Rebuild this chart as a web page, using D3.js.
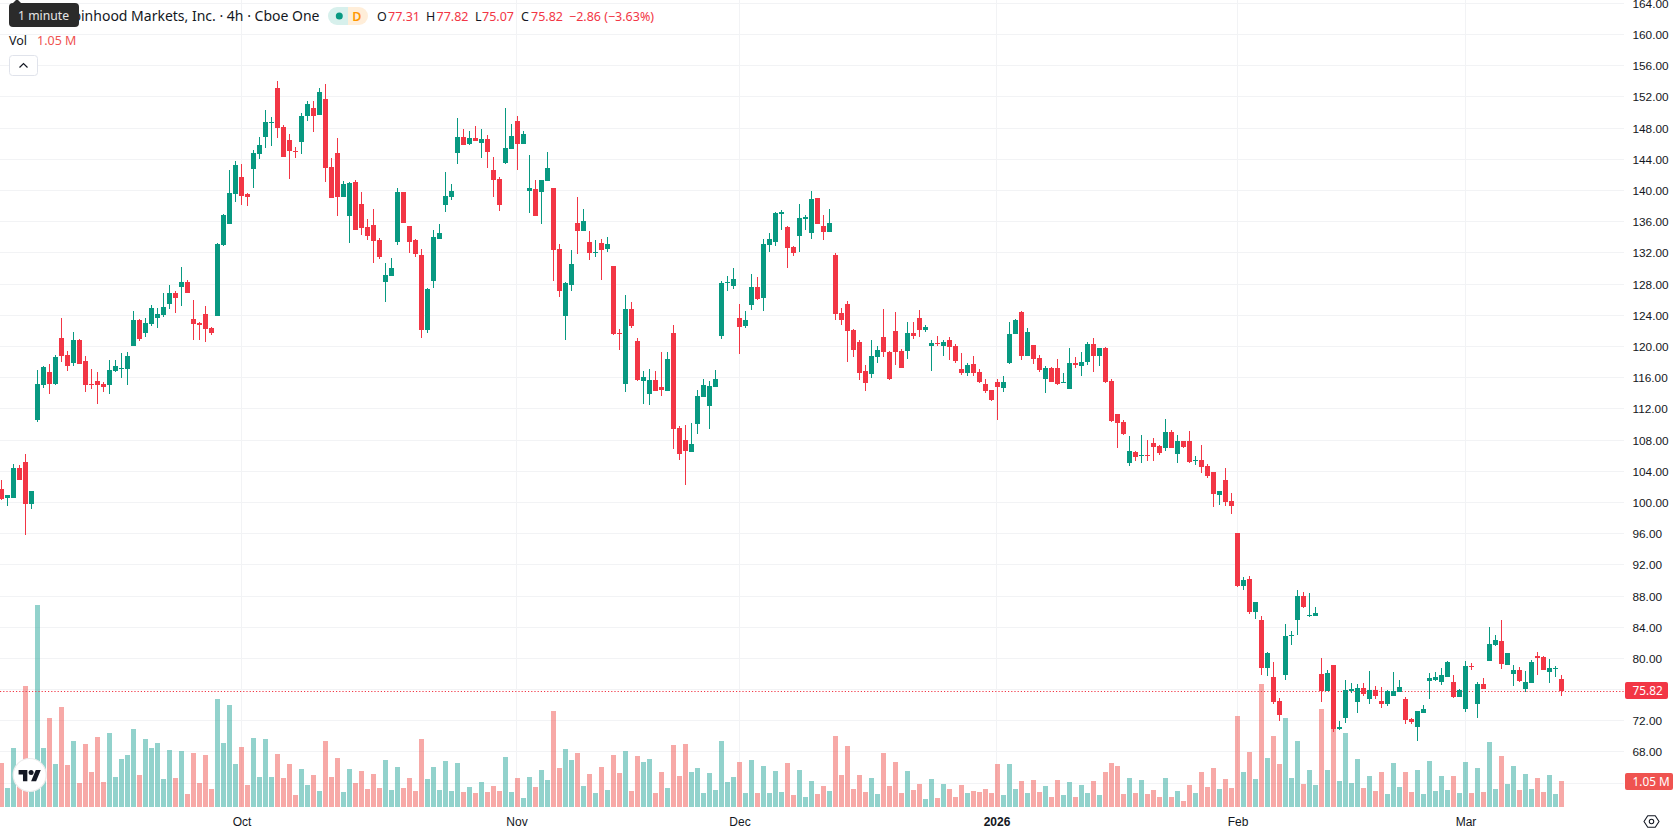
<!DOCTYPE html>
<html>
<head>
<meta charset="utf-8">
<title>Robinhood Markets, Inc. 4h</title>
<script src="https://cdn.jsdelivr.net/npm/d3@7/dist/d3.min.js"></script>
<style>
  html, body { margin: 0; padding: 0; background: #fff; overflow: hidden; }
  svg { display: block; font-family: "Noto Sans", "Open Sans", sans-serif; }
</style>
</head>
<body>
<svg id="chart" width="1678" height="835"></svg>
<script>
// Four-hour candles, oldest first
const opens = [
  101.65,100.50,100.50,104.34,105.11,99.73,110.50,114.99,116.65,115.11,
  121.01,118.83,117.81,120.75,118.06,115.11,115.50,115.11,114.99,116.78,
  117.04,117.04,119.99,123.32,121.65,122.81,123.58,123.96,125.37,126.78,
  127.55,128.19,123.45,122.93,124.09,122.29,123.83,132.93,135.63,139.47,
  141.65,139.47,142.68,144.60,146.78,148.58,153.06,148.06,146.40,144.99,
  146.14,149.47,150.50,149.60,151.65,142.93,144.73,139.09,136.65,141.01,
  138.19,135.24,135.50,133.58,128.19,128.96,133.32,139.73,135.37,133.58,
  131.66,122.04,128.32,133.71,138.07,139.09,144.73,146.78,145.89,146.66,
  146.02,146.53,142.55,141.40,143.45,145.25,148.84,145.89,139.86,140.12,
  139.73,141.14,140.25,132.43,123.84,127.81,135.76,134.73,133.32,131.91,
  133.19,132.43,130.25,121.66,115.12,124.73,120.63,115.50,113.84,115.63,
  114.73,114.22,121.66,109.48,107.94,106.40,109.99,113.45,112.30,114.73,
  121.27,128.06,127.68,123.58,122.55,125.25,127.55,126.14,132.94,133.32,
  136.91,135.25,132.68,134.09,136.27,134.48,138.96,135.37,134.60,131.66,
  124.22,125.37,122.04,120.50,116.78,116.40,118.58,121.14,119.22,121.91,
  119.35,119.35,121.66,123.58,122.04,119.99,120.37,119.99,120.76,119.99,
  117.04,116.53,117.68,116.66,115.12,114.35,115.37,114.60,117.81,121.53,
  124.35,118.71,120.12,118.45,115.76,117.17,117.17,115.24,114.48,117.81,
  117.42,117.94,120.24,118.71,119.73,115.50,111.27,110.24,104.99,106.40,
  105.89,106.01,107.55,107.17,106.91,108.96,106.14,107.81,107.81,105.24,
  105.37,104.60,103.83,100.89,102.81,100.12,96.01,89.21,90.11,85.88,
  84.86,78.70,77.55,74.47,77.80,82.80,84.86,87.93,85.37,85.37,
  77.93,75.75,79.09,70.88,72.29,75.75,74.34,76.14,74.73,75.88,
  74.47,74.09,75.11,75.62,74.73,72.16,71.14,72.93,77.03,77.16,
  76.91,77.55,76.91,74.98,73.45,78.96,74.09,76.65,79.60,81.65,
  82.16,79.09,77.93,78.45,76.01,76.78,80.24,80.11,78.19,78.57,
  77.31
];
const highs = [
  102.81,100.88,104.86,104.73,106.14,101.40,116.91,117.42,117.68,118.83,
  123.58,119.34,121.78,120.88,118.70,117.04,116.65,115.37,118.19,118.19,
  119.09,119.22,124.47,123.45,123.58,125.24,124.86,126.78,127.81,127.04,
  130.11,128.45,125.88,123.06,125.11,122.42,133.19,136.91,142.55,143.70,
  143.32,139.60,145.11,146.78,150.24,149.34,153.96,148.32,147.16,145.50,
  149.86,151.40,151.40,153.06,153.58,144.09,146.65,141.14,141.01,141.27,
  139.73,136.27,137.55,133.83,130.63,131.27,140.24,139.73,135.37,133.70,
  132.43,127.43,134.86,135.63,142.30,140.76,149.22,147.81,147.55,148.19,
  147.81,147.04,144.22,141.66,150.50,148.45,149.48,147.55,144.48,141.27,
  141.27,144.86,140.25,133.07,128.19,132.30,139.09,137.55,134.73,133.58,
  133.71,133.96,130.25,122.17,126.53,125.63,121.02,116.78,117.04,116.78,
  119.22,119.22,122.68,109.73,109.86,110.12,114.35,115.76,115.50,116.91,
  128.32,128.96,129.99,125.37,124.48,129.22,128.84,133.71,134.48,137.17,
  137.43,135.37,132.81,138.19,136.78,139.86,138.96,136.78,137.55,131.91,
  124.86,125.76,122.17,120.76,117.55,120.76,119.99,124.73,119.35,124.35,
  119.60,123.07,123.07,124.60,122.68,120.76,121.27,120.76,121.14,120.24,
  119.09,117.81,118.71,117.04,115.76,114.35,115.76,116.14,123.07,123.45,
  124.48,122.30,120.12,118.83,117.42,117.30,118.32,116.53,119.73,118.58,
  119.22,120.50,121.01,119.73,119.86,115.76,111.27,110.50,108.45,106.53,
  108.58,107.94,108.19,107.30,110.63,109.22,108.58,107.81,109.09,105.89,
  107.30,104.86,103.83,101.40,104.35,101.14,96.01,90.37,90.50,87.16,
  85.37,80.75,79.47,74.86,84.34,83.45,88.70,88.45,88.32,86.52,
  79.98,78.45,79.09,71.91,77.16,76.78,76.65,76.78,78.32,76.39,
  76.27,75.88,78.19,77.16,74.98,72.29,73.19,73.96,78.06,78.19,
  78.70,79.60,77.80,76.01,79.60,79.34,76.91,77.42,83.96,82.93,
  84.86,80.62,79.09,78.83,78.32,79.73,80.75,80.24,79.86,78.96,
  77.82
];
const lows = [
  100.24,99.47,100.50,102.81,95.75,99.09,110.24,114.60,113.83,114.99,
  117.93,116.78,117.42,117.68,114.09,114.47,112.55,114.09,113.83,116.65,
  115.88,114.99,119.99,120.63,121.14,122.55,122.29,123.70,124.73,124.22,
  125.11,126.78,120.75,120.75,120.50,121.40,123.83,132.81,135.63,138.45,
  138.06,137.93,140.24,143.96,145.37,145.63,146.65,144.22,141.40,144.09,
  144.60,148.83,147.42,149.60,141.01,138.96,136.65,139.09,133.19,134.86,
  134.22,133.58,130.63,131.14,125.63,128.96,132.93,135.75,131.91,131.40,
  121.02,121.66,127.43,133.71,137.17,138.71,143.32,145.76,145.76,146.27,
  144.09,142.81,139.09,137.30,143.32,145.25,142.55,145.89,137.04,136.66,
  135.63,141.14,128.32,126.27,120.76,127.04,131.78,134.73,131.02,131.40,
  128.45,132.04,121.40,119.48,114.09,122.30,115.50,112.55,112.43,114.22,
  113.58,114.22,106.78,105.37,102.17,106.40,108.71,113.45,109.35,114.73,
  120.89,127.04,127.30,118.96,122.30,124.60,125.89,124.48,132.04,132.81,
  134.86,129.99,131.53,132.04,134.86,133.71,135.63,133.58,134.60,123.32,
  122.68,117.94,118.58,115.63,114.22,115.89,117.81,118.58,115.63,117.55,
  117.17,118.32,120.89,121.14,121.78,116.78,119.99,118.71,118.19,117.81,
  116.27,116.14,116.14,115.24,113.96,112.94,110.50,114.09,117.68,121.53,
  118.19,118.71,117.68,116.66,113.96,115.37,114.99,115.24,114.48,117.17,
  116.14,117.55,116.66,117.42,115.24,110.24,106.91,108.58,104.60,105.24,
  104.99,105.24,105.24,106.01,106.53,106.91,104.99,106.91,104.99,104.73,
  103.71,103.07,99.35,99.60,99.48,98.45,89.09,88.70,85.62,84.98,
  77.80,77.68,74.09,71.91,77.16,81.65,82.93,86.39,85.24,85.37,
  74.34,75.75,70.50,70.75,71.65,75.50,72.93,75.11,74.09,74.73,
  73.57,73.83,75.11,75.62,71.52,71.52,69.34,72.93,74.73,77.03,
  76.52,77.55,74.86,74.98,73.06,78.45,72.29,76.01,79.60,81.52,
  78.57,79.09,76.39,76.91,75.62,76.78,77.80,78.45,76.78,77.55,
  75.07
];
const closes = [
  100.37,100.88,104.34,102.81,99.73,101.40,115.11,117.29,115.11,118.58,
  118.70,117.42,120.75,117.68,114.99,114.99,114.99,114.73,116.91,117.42,
  117.16,118.70,123.32,120.88,122.93,124.86,124.09,124.99,126.78,126.14,
  128.19,126.78,122.81,122.68,122.16,121.65,133.06,136.78,139.60,143.19,
  139.22,139.09,144.73,145.75,148.70,148.70,147.93,144.22,144.99,144.86,
  149.47,151.01,149.47,152.55,142.81,138.96,139.09,140.75,140.88,134.86,
  135.11,134.09,133.45,131.40,129.09,129.99,139.73,135.75,133.32,131.78,
  122.04,127.30,133.96,134.48,139.22,139.86,146.78,145.76,146.66,146.27,
  146.53,144.86,141.27,138.07,145.37,146.91,145.89,147.17,140.25,136.66,
  141.27,142.81,132.30,127.04,128.06,130.50,134.73,136.02,131.91,132.04,
  132.30,133.07,121.53,121.53,124.73,122.55,115.63,116.02,115.63,114.22,
  114.35,118.32,109.35,106.14,106.53,107.43,113.58,114.99,114.86,115.76,
  128.06,128.19,128.58,122.43,123.32,127.55,126.02,133.07,133.71,137.04,
  137.17,132.55,131.91,136.40,136.53,138.84,135.63,134.60,135.76,124.09,
  123.32,121.91,119.48,116.53,115.24,118.71,119.48,119.22,115.76,119.22,
  117.17,121.66,121.27,122.04,122.42,120.37,120.24,120.50,119.86,118.07,
  116.53,117.55,116.53,115.37,114.22,113.07,114.73,115.37,121.53,123.32,
  118.71,121.78,118.32,116.91,117.17,115.37,115.12,115.37,117.81,117.55,
  117.94,120.24,118.71,119.73,115.37,110.37,110.12,108.71,106.53,105.76,
  106.01,105.89,107.04,106.27,108.96,106.91,107.81,107.04,105.12,105.37,
  104.48,103.32,101.01,101.40,99.99,99.48,89.21,89.98,85.88,87.16,
  78.70,80.62,74.34,72.68,82.80,82.93,87.93,86.52,85.50,85.75,
  75.75,78.06,70.88,71.14,75.88,76.01,76.14,75.37,75.88,75.11,
  74.09,75.75,75.75,76.27,72.03,71.78,73.19,73.45,77.42,77.55,
  77.80,79.47,74.98,75.88,78.96,78.83,76.65,76.01,81.78,82.29,
  79.21,80.62,78.45,77.03,76.91,79.47,79.98,78.45,78.70,78.70,
  75.82
];
// Traded volume per candle, in millions of shares
const volumes = [
  1.78,0.77,2.38,0.94,4.89,0.81,8.16,2.38,3.59,1.74,
  4.04,1.70,2.67,0.97,2.54,1.41,2.83,1.01,2.99,1.21,
  1.94,2.10,3.15,1.29,2.75,2.38,2.58,1.13,2.30,1.17,
  2.26,0.52,2.18,0.97,2.10,0.73,4.36,2.58,4.12,1.74,
  2.42,0.89,2.79,1.21,2.75,1.21,2.14,1.17,1.74,0.48,
  1.53,0.89,1.29,0.65,2.67,1.21,1.98,0.61,1.53,0.97,
  1.45,0.73,1.33,0.77,1.90,0.69,1.62,0.77,1.17,0.65,
  2.75,1.13,1.62,0.69,1.86,0.65,1.78,0.61,0.81,0.57,
  1.01,0.61,0.85,0.65,2.02,0.61,1.17,0.36,1.21,0.81,
  1.49,1.09,3.88,1.57,2.34,1.90,2.18,0.85,1.33,0.57,
  1.62,0.69,2.10,1.37,2.26,0.65,2.06,1.82,1.94,0.57,
  1.41,0.77,2.50,1.25,2.54,1.41,1.57,0.57,1.37,0.69,
  2.67,1.01,1.21,1.82,0.57,1.90,0.57,1.66,0.57,1.45,
  0.61,1.78,0.48,1.49,0.40,1.05,0.52,0.85,0.65,2.87,
  1.29,2.46,0.73,1.29,0.61,1.17,0.52,2.18,0.85,1.82,
  0.57,1.45,0.69,0.93,0.32,1.13,0.36,0.93,0.73,0.40,
  0.89,0.57,0.65,0.61,0.73,0.57,1.74,0.48,1.74,0.73,
  1.05,0.57,1.09,0.61,0.85,0.40,1.09,0.48,1.01,0.40,
  0.89,0.57,1.05,0.48,1.41,1.78,1.66,0.52,1.17,0.57,
  1.09,0.52,0.69,0.40,1.17,0.40,0.65,0.24,0.89,0.57,
  1.41,0.81,1.57,0.73,1.13,0.77,3.67,1.41,2.22,1.13,
  4.97,1.98,2.87,1.74,3.59,1.17,2.67,0.93,1.49,0.89,
  3.96,1.49,3.15,1.05,2.99,0.97,1.94,0.77,1.25,0.65,
  1.41,0.52,1.78,0.81,1.41,0.61,1.49,0.52,1.86,0.65,
  1.25,0.69,1.25,0.57,1.82,0.57,1.57,0.61,2.62,0.73,
  2.06,0.93,1.66,0.69,1.33,0.73,1.17,0.61,1.29,0.52,
  1.05
];

const priceTicks = d3.range(64, 165, 4);
const dateTicks = [40, 86, 123, 166, 206, 244];
const dateLabels = ["Oct", "Nov", "Dec", "2026", "Feb", "Mar"];
const lastPrice = "75.82";
const lastVolume = "1.05 M";
const titleText = "Robinhood Markets, Inc. · 4h · Cboe One";
const ohlcLegend = [
  { key: "O", keyX: 377, value: "77.31", valueX: 388 },
  { key: "H", keyX: 426, value: "77.82", valueX: 436.5 },
  { key: "L", keyX: 475, value: "75.07", valueX: 482 },
  { key: "C", keyX: 521, value: "75.82", valueX: 531 }
];
const changeText = "−2.86 (−3.63%)";

const UP = "#089981", DOWN = "#f23645";
const UP_VOL = "rgba(38,166,154,.5)", DOWN_VOL = "rgba(239,83,80,.5)";
const GRID = "#f2f3f5", INK = "#131722";

const paneW = 1624, paneH = 807;
const svg = d3.select("#chart");

// Scales: price is linear at 7.8px per dollar, candles sit on a 6px slot grid
const x = d3.scaleLinear().domain([0, 260]).range([1.5, 1561.5]);
const y = d3.scaleLinear().domain([72, 152]).range([720.3, 96.3]);
const yGrid = y.copy().interpolate(d3.interpolateRound);
const v = d3.scaleLinear().domain([0, 1.05]).range([paneH, 781]);
const xGrid = x.copy().interpolate(d3.interpolateRound);

// Price axis with gridlines running back across the pane
const priceAxis = d3.axisRight(yGrid)
  .tickValues(priceTicks)
  .tickSize(paneW)
  .tickFormat(d3.format(".2f"))
  .offset(0.5);
const gy = svg.append("g").call(priceAxis);
gy.select(".domain").remove();
gy.selectAll("line").attr("stroke", GRID);
gy.selectAll("text")
  .attr("x", paneW + 8.5)
  .attr("dy", "0.36em")
  .attr("fill", INK)
  .attr("font-size", 11.8);

// Date axis with vertical gridlines
const dateAxis = d3.axisBottom(xGrid)
  .tickValues(dateTicks)
  .tickSize(paneH)
  .tickFormat(d => dateLabels[dateTicks.indexOf(d)])
  .offset(0);
const gx = svg.append("g").call(dateAxis);
gx.select(".domain").remove();
gx.selectAll("line").attr("stroke", GRID).attr("transform", "translate(-0.5,0)");
gx.selectAll("text")
  .attr("y", 821.5)
  .attr("dy", "0.36em")
  .attr("fill", INK)
  .attr("font-size", 12)
  .attr("font-weight", d => d === 166 ? 700 : 400);

const slots = d3.range(opens.length);
const isUp = i => closes[i] >= opens[i];

// Volume histogram along the bottom of the pane
svg.append("g").selectAll("rect").data(slots).join("rect")
  .attr("x", i => x(i) - 2.5)
  .attr("width", 5)
  .attr("y", i => v(volumes[i]))
  .attr("height", i => paneH - v(volumes[i]))
  .attr("fill", i => isUp(i) ? UP_VOL : DOWN_VOL)
  .attr("shape-rendering", "crispEdges");

// Dotted line at the last traded price
svg.append("line")
  .attr("x1", 0).attr("x2", paneW)
  .attr("y1", Math.round(y(+lastPrice)) + 0.5)
  .attr("y2", Math.round(y(+lastPrice)) + 0.5)
  .attr("stroke", DOWN)
  .attr("stroke-dasharray", "1.2 2");

// Candles: one-pixel wick plus a 5px body
const candles = svg.append("g").attr("shape-rendering", "crispEdges");
candles.selectAll(".wick").data(slots).join("rect")
  .attr("class", "wick")
  .attr("x", i => x(i) - 0.5)
  .attr("width", 1)
  .attr("y", i => y(highs[i]))
  .attr("height", i => y(lows[i]) - y(highs[i]))
  .attr("fill", i => isUp(i) ? UP : DOWN);
candles.selectAll(".body").data(slots).join("rect")
  .attr("class", "body")
  .attr("x", i => x(i) - 2.5)
  .attr("width", 5)
  .attr("y", i => y(Math.max(opens[i], closes[i])))
  .attr("height", i => Math.max(1, Math.abs(y(opens[i]) - y(closes[i]))))
  .attr("fill", i => isUp(i) ? UP : DOWN);

// Value tags on the price axis
const tag = (value, top, w, fill) => {
  const t = svg.append("g");
  t.append("rect")
    .attr("x", 1625).attr("y", top).attr("width", w).attr("height", 17)
    .attr("rx", 2).attr("fill", fill);
  t.append("text")
    .attr("x", 1632.5).attr("y", top + 8.5).attr("dy", "0.36em")
    .attr("fill", "#fff").attr("font-size", 11.8).text(value);
};
tag(lastPrice, 682, 43, DOWN);
tag(lastVolume, 773, 48, "#ef5350");

// Settings glyph in the axis corner
const gear = svg.append("g")
  .attr("transform", "translate(1651.5,821.5)")
  .attr("fill", "none").attr("stroke", INK).attr("stroke-width", 1.1);
gear.append("path")
  .attr("d", d3.line()(d3.range(6).map(k => [
    7.5 * Math.cos(k * Math.PI / 3), 6.6 * Math.sin(k * Math.PI / 3)
  ])) + "Z")
  .attr("stroke-linejoin", "round");
gear.append("circle").attr("r", 2.2);

// Attribution badge
svg.append("circle")
  .attr("cx", 29.7).attr("cy", 775).attr("r", 16.5)
  .attr("fill", "#fff").attr("stroke", "#ececec").attr("stroke-width", 1.2);
const badge = svg.append("g")
  .attr("transform", "translate(18.6,767.5) scale(0.625)")
  .attr("fill", "#131722");
badge.append("path").attr("d", "M14 22H7V11H0V4h14v18zM28 22h-8l7.5-18h8L28 22z");
badge.append("circle").attr("cx", 20).attr("cy", 8).attr("r", 4);

// Legend row: instrument title
svg.append("text")
  .attr("x", 319.5).attr("y", 21).attr("text-anchor", "end")
  .attr("fill", INK).attr("font-size", 14).text(titleText);

// Market status pill
svg.append("path")
  .attr("d", "M348 7H337a9 9 0 0 0 0 18H348Z").attr("fill", "#d7f0ec");
svg.append("path")
  .attr("d", "M348 7H359a9 9 0 0 1 0 18H348Z").attr("fill", "#ffeed9");
svg.append("circle")
  .attr("cx", 339.3).attr("cy", 16).attr("r", 3.5).attr("fill", UP);
svg.append("text")
  .attr("x", 356.8).attr("y", 20.5).attr("text-anchor", "middle")
  .attr("fill", "#ff9800").attr("font-size", 12.5).attr("font-weight", 600).text("D");

// Open, high, low, close readout
const legend = svg.append("g").attr("font-size", 12.5);
ohlcLegend.forEach(d => {
  legend.append("text").attr("x", d.keyX).attr("y", 20.5).attr("fill", INK).text(d.key);
  legend.append("text").attr("x", d.valueX).attr("y", 20.5).attr("fill", DOWN).text(d.value);
});
legend.append("text").attr("x", 569).attr("y", 20.5).attr("fill", DOWN).text(changeText);

// Volume readout
svg.append("text")
  .attr("x", 9).attr("y", 45).attr("fill", INK).attr("font-size", 12.5).text("Vol");
svg.append("text")
  .attr("x", 37).attr("y", 45).attr("fill", "#ef5350").attr("font-size", 12.5).text(lastVolume);

// Collapse button
svg.append("rect")
  .attr("x", 9.5).attr("y", 55.5).attr("width", 28).attr("height", 20).attr("rx", 3)
  .attr("fill", "#fff").attr("stroke", "#e0e3eb");
svg.append("path")
  .attr("d", "M19.5 67.5L23.5 63.5L27.5 67.5")
  .attr("fill", "none").attr("stroke", INK).attr("stroke-width", 1.2);

// Tooltip over the title row
svg.append("path")
  .attr("d", "M13 3H21L17 -1Z").attr("fill", "#2b2b2b");
svg.append("rect")
  .attr("x", 9).attr("y", 3).attr("width", 70).attr("height", 24).attr("rx", 4)
  .attr("fill", "#2b2b2b");
svg.append("text")
  .attr("x", 18).attr("y", 20).attr("fill", "#e6e6e6").attr("font-size", 12.2).text("1 minute");
</script>
</body>
</html>
